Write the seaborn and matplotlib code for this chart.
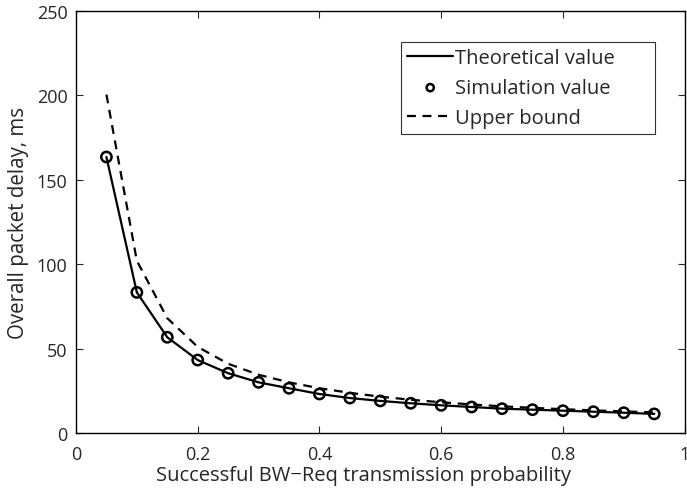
import numpy as np
import seaborn as sns
import matplotlib
matplotlib.use("Agg")
import matplotlib.pyplot as plt

prob = [0.05, 0.10, 0.15, 0.20, 0.25, 0.30, 0.35, 0.40, 0.45, 0.50,
        0.55, 0.60, 0.65, 0.70, 0.75, 0.80, 0.85, 0.90, 0.95]
theory = [163.5, 83.3, 56.7, 43.2, 35.4, 30.0, 26.5, 23.1, 20.7, 19.0,
          17.6, 16.4, 15.4, 14.4, 13.8, 13.2, 12.6, 12.0, 11.3]
simulation = [163.5, 83.3, 56.7, 43.2, 35.4, 30.0, 26.5, 23.1, 20.7, 19.0,
              17.6, 16.4, 15.4, 14.4, 13.8, 13.2, 12.6, 12.0, 11.3]
upper = [200.5, 102.0, 68.0, 51.0, 41.0, 34.5, 30.0, 26.5, 23.8, 21.5,
         19.7, 18.2, 16.9, 15.8, 14.9, 14.1, 13.4, 12.8, 12.2]

sns.set_style("ticks")
plt.rcParams['font.family'] = ['Open Sans', 'DejaVu Sans']

fig = plt.figure(figsize=(6.87, 4.89), dpi=100)
ax = fig.add_axes([0.1106, 0.1125, 0.886, 0.863])

sns.lineplot(x=prob, y=theory, ax=ax, color="black", linewidth=1.6,
             label="Theoretical value")
sns.scatterplot(x=prob, y=simulation, ax=ax, marker="o", s=55,
                facecolors="none", edgecolor="black", linewidth=1.8,
                label="Simulation value", zorder=3)
sns.lineplot(x=prob, y=upper, ax=ax, color="black", linewidth=1.6,
             linestyle=(0, (4, 3)), label="Upper bound")

ax.set_xlim(0, 1)
ax.set_ylim(0, 250)
ax.set_xticks([0, 0.2, 0.4, 0.6, 0.8, 1])
ax.set_xticklabels(["0", "0.2", "0.4", "0.6", "0.8", "1"])
ax.set_yticks([0, 50, 100, 150, 200, 250])
ax.tick_params(direction="in", top=True, right=True, labelsize=13,
               length=5, width=0.8)
ax.tick_params(axis="x", pad=9)
ax.tick_params(axis="y", pad=6)
for s in ax.spines.values():
    s.set_linewidth(1.0)
    s.set_color("black")

ax.set_xlabel("Successful BW\u2212Req transmission probability", fontsize=14.5)
ax.xaxis.set_label_coords(0.473, -0.077, transform=ax.transAxes)
ax.xaxis.label.set_va("top")
ax.set_ylabel("Overall packet delay, ms", fontsize=14.8, labelpad=6)

leg = ax.legend(loc="upper left", bbox_to_anchor=(0.534, 0.707, 0.417, 0.22),
                mode="expand", fontsize=14.5,
                frameon=True, fancybox=False, edgecolor="black",
                handlelength=2.3, handletextpad=0.1, borderpad=0.3,
                labelspacing=0.5, borderaxespad=0, markerscale=0.7)
leg.get_frame().set_linewidth(0.8)

plt.savefig("out.png", dpi=100)
